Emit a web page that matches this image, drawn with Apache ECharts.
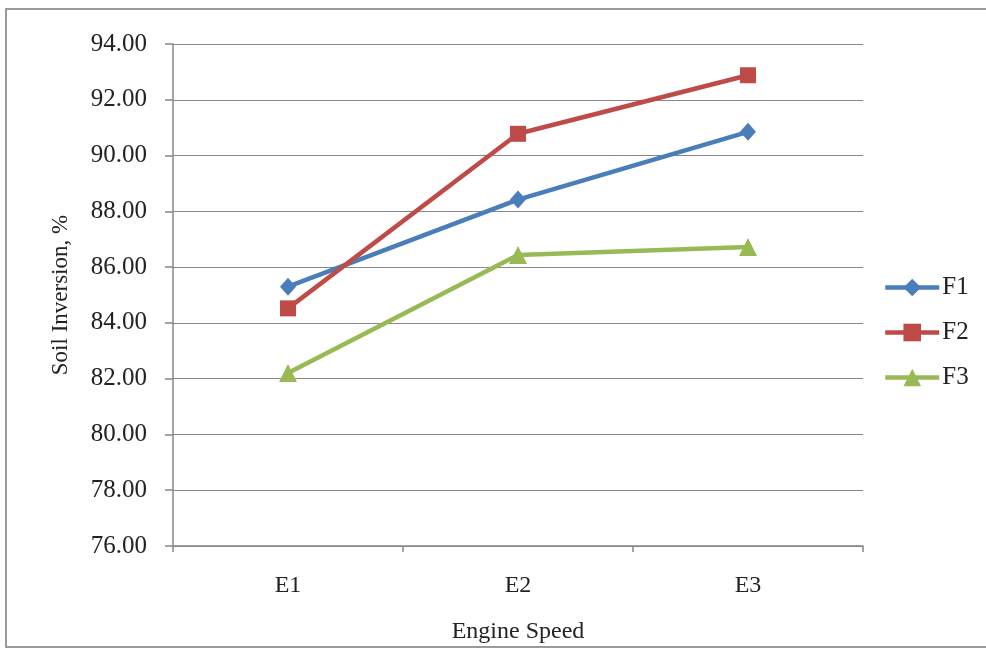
<!DOCTYPE html>
<html>
<head>
<meta charset="utf-8">
<script src="https://cdn.jsdelivr.net/npm/echarts@6/dist/echarts.min.js"></script>
<style>
  html, body { margin: 0; padding: 0; background: #ffffff; }
  #chart { width: 986px; height: 648px; }
</style>
</head>
<body>
<div id="chart"></div>
<script>
// Engine speed levels along the x axis
const categories = ['E1', 'E2', 'E3'];
// Soil inversion (%) per forward speed
const seriesNames = ['F1', 'F2', 'F3'];
const f1 = [85.30, 88.42, 90.85];
const f2 = [84.52, 90.78, 92.88];
const f3 = [82.20, 86.43, 86.72];
// Value axis range and step
const yMin = 76, yMax = 94, yStep = 2;

const FONT = "'Liberation Serif', 'Times New Roman', serif";
const AXIS_GREY = '#878787';

const styles = [
  { color: '#4a7ebb', symbol: 'diamond', size: [16, 18] },
  { color: '#be4b48', symbol: 'rect', size: 16 },
  { color: '#98b954', symbol: 'triangle', size: 18 }
];

const chart = echarts.init(document.getElementById('chart'), null, { renderer: 'canvas' });

chart.setOption({
  backgroundColor: '#ffffff',
  animation: false,
  textStyle: { fontFamily: FONT },
  graphic: [{
    type: 'rect',
    shape: { x: 6, y: 9, width: 990, height: 638 },
    style: { fill: 'none', stroke: '#9a9a9a', lineWidth: 2 },
    silent: true
  }],
  grid: { left: 173, right: 123, top: 44, bottom: 102, outerBoundsMode: 'none', containLabel: false },
  legend: {
    orient: 'vertical',
    left: 878,
    top: 270,
    itemWidth: 54,
    itemHeight: 22,
    itemGap: 20,
    lineStyle: { width: 4.5 },
    textStyle: { fontFamily: FONT, fontSize: 25, color: '#222', padding: [0, 0, 0, -2] },
    data: seriesNames
  },
  xAxis: {
    type: 'category',
    data: categories,
    boundaryGap: true,
    name: 'Engine Speed',
    nameLocation: 'middle',
    nameGap: 74,
    nameTextStyle: { fontFamily: FONT, fontSize: 24, color: '#222' },
    axisLine: { lineStyle: { color: AXIS_GREY, width: 1.5 } },
    axisTick: { show: true, interval: 0, length: 6, lineStyle: { color: AXIS_GREY, width: 1.5 } },
    axisLabel: { fontFamily: FONT, fontSize: 24, color: '#222', margin: 28 },
    splitLine: { show: false }
  },
  yAxis: {
    type: 'value',
    min: yMin,
    max: yMax,
    interval: yStep,
    name: 'Soil Inversion, %',
    nameLocation: 'middle',
    nameGap: 101,
    nameRotate: 90,
    nameTextStyle: { fontFamily: FONT, fontSize: 23, color: '#222' },
    axisLine: { show: true, lineStyle: { color: AXIS_GREY, width: 1.5 } },
    axisTick: { show: true, length: 8, lineStyle: { color: AXIS_GREY, width: 1.5 } },
    axisLabel: {
      fontFamily: FONT, fontSize: 25, color: '#222', margin: 26,
      formatter: v => v.toFixed(2)
    },
    splitLine: { show: true, lineStyle: { color: AXIS_GREY, width: 1.2 } }
  },
  series: [f1, f2, f3].map((d, i) => ({
    name: seriesNames[i],
    type: 'line',
    data: d,
    symbol: styles[i].symbol,
    symbolSize: styles[i].size,
    showAllSymbol: true,
    lineStyle: { color: styles[i].color, width: 4.5 },
    itemStyle: { color: styles[i].color, borderWidth: 0 },
    z: 3 + i
  }))
});
</script>
</body>
</html>
